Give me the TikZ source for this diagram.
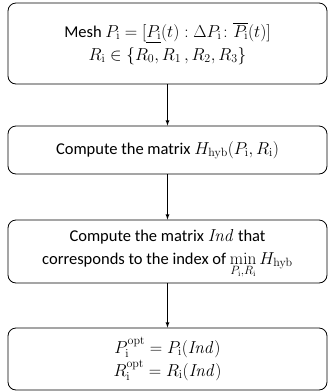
\documentclass[tikz,border=0pt]{standalone}
\usepackage{amsmath, amssymb}
\usepackage[no-math]{fontspec}
\setmainfont{Carlito}
\usepackage{tikz}

\begin{document}
\begin{tikzpicture}[
    x=1pt, y=-1pt,
    box/.style={draw, rounded corners=8pt, line width=0.8pt, minimum width=319pt,
        align=center, inner sep=0pt, font=\fontsize{16.5}{23}\selectfont},
    arrow/.style={-latex, line width=0.8pt},
]
    \useasboundingbox (0,0) rectangle (335,392);
    \node[box, minimum height=81pt] (mesh) at (167.5, 43.5)
        {Mesh $P_{\mathrm{i}} = [\underline{P_{\mathrm{i}}}(t) : \Delta P_{\mathrm{i}}\colon \overline{P_{\mathrm{i}}}(t)]$\\
         $R_{\mathrm{i}} \in \{R_0, R_1\,, R_2, R_3\}$};
    \node[box, minimum height=48pt] (hyb) at (167.5, 150)
        {Compute the matrix $H_{\mathrm{hyb}}(P_{\mathrm{i}}, R_{\mathrm{i}})$};
    \node[box, minimum height=63pt] (ind) at (167.5, 251.5)
        {Compute the matrix $\mathit{Ind}$ that\\
         corresponds to the index of $\min\limits_{P_{\mathrm{i}},R_{\mathrm{i}}} H_{\mathrm{hyb}}$\\[-13pt]};
    \node[box, minimum height=62pt] (opt) at (167.5, 359)
        {$P_{\mathrm{i}}^{\mathrm{opt}} = P_{\mathrm{i}}(\mathit{Ind})$\\
         $R_{\mathrm{i}}^{\mathrm{opt}} = R_{\mathrm{i}}(\mathit{Ind})$};
    \draw[arrow] (mesh) -- (hyb);
    \draw[arrow] (hyb) -- (ind);
    \draw[arrow] (ind) -- (opt);
\end{tikzpicture}
\end{document}
